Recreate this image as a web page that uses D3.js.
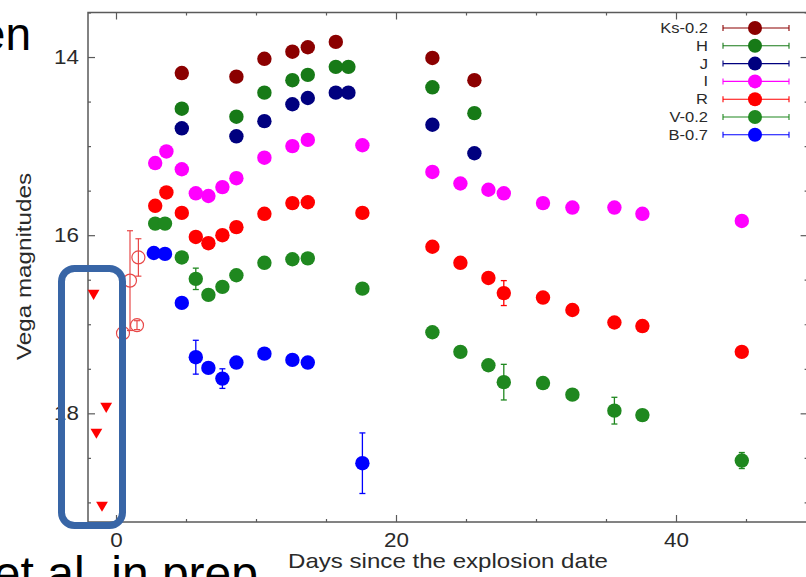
<!DOCTYPE html>
<html><head><meta charset="utf-8">
<script src="https://cdn.jsdelivr.net/npm/d3@7"></script>
<style>body{margin:0;background:#fff;} svg{display:block;}</style>
</head><body>
<svg id="c" width="806" height="577"></svg>
<script>
// ---------- data ----------
const seriesNames  = ["Ks-0.2", "H", "J", "I", "R", "V-0.2", "B-0.7"];
const seriesColors = ["#8b0000", "#177a17", "#00007f", "#ff00ff", "#ff0000", "#1f881f", "#0000ff"];

const ksDays = [4.7, 8.6, 10.6, 12.6, 13.7, 15.7, 22.6, 25.6];
const ksMags = [14.18, 14.22, 14.02, 13.94, 13.89, 13.83, 14.01, 14.26];

const hDays = [4.7, 8.6, 10.6, 12.6, 13.7, 15.7, 16.6, 22.6, 25.6];
const hMags = [14.58, 14.67, 14.40, 14.26, 14.20, 14.11, 14.11, 14.34, 14.63];

const jDays = [4.7, 8.6, 10.6, 12.6, 13.7, 15.7, 16.6, 22.6, 25.6];
const jMags = [14.80, 14.89, 14.72, 14.53, 14.46, 14.40, 14.40, 14.76, 15.08];

const iDays = [2.8, 3.6, 4.7, 5.7, 6.6, 7.6, 8.6, 10.6, 12.6, 13.7, 17.6, 22.6, 24.6, 26.6, 27.7, 30.5, 32.6, 35.6, 37.6, 44.7];
const iMags = [15.19, 15.06, 15.26, 15.53, 15.56, 15.46, 15.36, 15.13, 15.00, 14.93, 14.99, 15.29, 15.42, 15.49, 15.53, 15.64, 15.69, 15.69, 15.76, 15.84];

const rDays = [2.8, 3.6, 4.7, 5.7, 6.6, 7.6, 8.6, 10.6, 12.6, 13.7, 17.6, 22.6, 24.6, 26.6, 27.7, 30.5, 32.6, 35.6, 37.6, 44.7];
const rMags = [15.67, 15.52, 15.75, 16.02, 16.09, 16.00, 15.91, 15.76, 15.64, 15.63, 15.75, 16.13, 16.31, 16.48, 16.65, 16.70, 16.84, 16.98, 17.02, 17.31];
const rErrs = [0, 0, 0, 0, 0, 0, 0, 0, 0, 0, 0, 0, 0, 0, 0.14, 0, 0, 0, 0, 0];

const vDays = [2.8, 3.5, 4.7, 5.7, 6.6, 7.6, 8.6, 10.6, 12.6, 13.7, 17.6, 22.6, 24.6, 26.6, 27.7, 30.5, 32.6, 35.6, 37.6, 44.7];
const vMags = [15.87, 15.87, 16.25, 16.49, 16.67, 16.58, 16.45, 16.31, 16.27, 16.26, 16.60, 17.09, 17.31, 17.46, 17.65, 17.66, 17.79, 17.97, 18.02, 18.53];
const vErrs = [0, 0, 0, 0.12, 0, 0, 0, 0, 0, 0, 0, 0, 0, 0, 0.20, 0, 0, 0.15, 0, 0.09];

const bDays = [2.7, 3.5, 4.7, 5.7, 6.6, 7.6, 8.6, 10.6, 12.6, 13.7, 17.6];
const bMags = [16.20, 16.21, 16.76, 17.37, 17.49, 17.61, 17.43, 17.33, 17.40, 17.43, 18.56];
const bErrs = [0, 0, 0, 0.19, 0, 0.11, 0, 0, 0, 0, 0.34];

// early open-circle detections (R)
const earlyDays = [0.5, 1.0, 1.5, 1.6];
const earlyMags = [17.10, 16.51, 17.01, 16.25];
const earlyErrs = [0, 0.56, 0.05, 0.21];

// upper limits (R)
const limitDays = [-1.6, -0.7, -1.4, -1.0];
const limitMags = [16.65, 17.92, 18.21, 19.03];

const xMajorTicks = [0, 20, 40];
const xMinorTicks = [5, 10, 15, 25, 30, 35, 45];
const yMajorTicks = [14, 16, 18];
const yMinorTicks = [13.5, 14.5, 15, 15.5, 16.5, 17, 17.5, 18.5, 19];

const xLabel = "Days since the explosion date";
const yLabel = "Vega magnitudes";
const slideTop = "en";
const slideBottom = "et al. in prep";

// ---------- drawing ----------
const svg = d3.select("#c");
const FONT = "'Liberation Sans', Arial, sans-serif";
const x = d3.scaleLinear().domain([-2, 49.4]).range([88, 807.6]);
const y = d3.scaleLinear().domain([13.5, 19.22]).range([12.5, 522]);
const [X0, X1] = x.range(), [Y0, Y1] = y.range();

function stretch(sel, f) {
  sel.each(function () {
    const w = this.getComputedTextLength();
    d3.select(this).attr("textLength", w * f).attr("lengthAdjust", "spacingAndGlyphs");
  });
}

// frame
svg.append("rect").attr("x", X0).attr("y", Y0).attr("width", X1 - X0).attr("height", Y1 - Y0)
  .attr("fill", "none").attr("stroke", "#5a5a5a").attr("stroke-width", 1.5);

function styleAxis(g) {
  g.select(".domain").remove();
  g.selectAll(".tick line").attr("stroke", "#5a5a5a").attr("stroke-width", 1.2);
  g.selectAll("text").attr("font-family", FONT).attr("font-size", 20).attr("fill", "#2a2a2a");
}
// bottom
svg.append("g").attr("transform", `translate(0,${Y1})`)
  .call(d3.axisBottom(x).tickValues(xMajorTicks).tickSizeInner(-7).tickSizeOuter(0).tickPadding(11).tickFormat(d3.format("d")))
  .call(styleAxis).call(g => stretch(g.selectAll("text"), 1.12));
svg.append("g").attr("transform", `translate(0,${Y1})`)
  .call(d3.axisBottom(x).tickValues(xMinorTicks).tickSizeInner(-3).tickSizeOuter(0).tickFormat(""))
  .call(styleAxis);
// top (mirror)
svg.append("g").attr("transform", `translate(0,${Y0})`)
  .call(d3.axisTop(x).tickValues(xMajorTicks).tickSizeInner(-7).tickSizeOuter(0).tickFormat(""))
  .call(styleAxis);
svg.append("g").attr("transform", `translate(0,${Y0})`)
  .call(d3.axisTop(x).tickValues(xMinorTicks).tickSizeInner(-3).tickSizeOuter(0).tickFormat(""))
  .call(styleAxis);
// left
svg.append("g").attr("transform", `translate(${X0},0)`)
  .call(d3.axisLeft(y).tickValues(yMajorTicks).tickSizeInner(-7).tickSizeOuter(0).tickPadding(9).tickFormat(d3.format("d")))
  .call(styleAxis).call(g => stretch(g.selectAll("text"), 1.12));
svg.append("g").attr("transform", `translate(${X0},0)`)
  .call(d3.axisLeft(y).tickValues(yMinorTicks).tickSizeInner(-3).tickSizeOuter(0).tickFormat(""))
  .call(styleAxis);
// right (mirror)
svg.append("g").attr("transform", `translate(${X1},0)`)
  .call(d3.axisRight(y).tickValues(yMajorTicks).tickSizeInner(-7).tickSizeOuter(0).tickFormat(""))
  .call(styleAxis);
svg.append("g").attr("transform", `translate(${X1},0)`)
  .call(d3.axisRight(y).tickValues(yMinorTicks).tickSizeInner(-3).tickSizeOuter(0).tickFormat(""))
  .call(styleAxis);

// axis titles
svg.append("text").attr("x", 448).attr("y", 568).attr("text-anchor", "middle")
  .attr("font-family", FONT).attr("font-size", 21).attr("fill", "#2a2a2a")
  .attr("textLength", 320).attr("lengthAdjust", "spacingAndGlyphs").text(xLabel);
svg.append("text").attr("transform", "translate(31,266.5) rotate(-90)").attr("text-anchor", "middle")
  .attr("font-family", FONT).attr("font-size", 20).attr("fill", "#2a2a2a")
  .attr("textLength", 187).attr("lengthAdjust", "spacingAndGlyphs").text(yLabel);

// series
const series = [
  {days: ksDays, mags: ksMags, errs: null},
  {days: hDays, mags: hMags, errs: null},
  {days: jDays, mags: jMags, errs: null},
  {days: iDays, mags: iMags, errs: null},
  {days: rDays, mags: rMags, errs: rErrs},
  {days: vDays, mags: vMags, errs: vErrs},
  {days: bDays, mags: bMags, errs: bErrs}
];
const plot = svg.append("g");
function errorBars(g, days, mags, errs, color, width) {
  const data = days.map((d, i) => ({d, m: mags[i], e: errs ? errs[i] : 0})).filter(p => p.e > 0);
  const eg = g.append("g").attr("stroke", color).attr("stroke-width", width).attr("fill", "none");
  eg.selectAll("line.v").data(data).join("line")
    .attr("x1", p => x(p.d)).attr("x2", p => x(p.d)).attr("y1", p => y(p.m - p.e)).attr("y2", p => y(p.m + p.e));
  eg.selectAll("line.t").data(data).join("line").attr("class", "t")
    .attr("x1", p => x(p.d) - 3).attr("x2", p => x(p.d) + 3).attr("y1", p => y(p.m - p.e)).attr("y2", p => y(p.m - p.e));
  eg.selectAll("line.b").data(data).join("line").attr("class", "b")
    .attr("x1", p => x(p.d) - 3).attr("x2", p => x(p.d) + 3).attr("y1", p => y(p.m + p.e)).attr("y2", p => y(p.m + p.e));
}
series.forEach((s, k) => {
  const g = plot.append("g");
  errorBars(g, s.days, s.mags, s.errs, seriesColors[k], 1.3);
  g.selectAll("circle").data(s.days.map((d, i) => [d, s.mags[i]])).join("circle")
    .attr("cx", p => x(p[0])).attr("cy", p => y(p[1])).attr("r", 7.2).attr("fill", seriesColors[k]);
});

// early open circles
const eg = plot.append("g");
errorBars(eg, earlyDays, earlyMags, earlyErrs, "#e84848", 1.2);
eg.selectAll("circle").data(earlyDays.map((d, i) => [d, earlyMags[i]])).join("circle")
  .attr("cx", p => x(p[0])).attr("cy", p => y(p[1])).attr("r", 6.5)
  .attr("fill", "none").attr("stroke", "#e84848").attr("stroke-width", 1.2);

// upper limits
plot.append("g").selectAll("path").data(limitDays.map((d, i) => [d, limitMags[i]])).join("path")
  .attr("d", d3.symbol(d3.symbolTriangle, 60))
  .attr("transform", p => `translate(${x(p[0])},${y(p[1])}) rotate(180)`)
  .attr("fill", "#ff0000");

// legend
const leg = svg.append("g");
seriesNames.forEach((name, i) => {
  const cy = 28 + i * 17.8, c = seriesColors[i];
  const r = leg.append("g");
  r.append("line").attr("x1", 723).attr("x2", 789).attr("y1", cy).attr("y2", cy).attr("stroke", c).attr("stroke-width", 1.1);
  [723, 789].forEach(xx => r.append("line").attr("x1", xx).attr("x2", xx).attr("y1", cy - 3).attr("y2", cy + 3).attr("stroke", c).attr("stroke-width", 1.1));
  r.append("circle").attr("cx", 755).attr("cy", cy).attr("r", 7).attr("fill", c);
  const t = r.append("text").attr("x", 708).attr("y", cy + 5).attr("text-anchor", "end")
    .attr("font-family", FONT).attr("font-size", 14).attr("fill", "#2a2a2a").text(name);
  stretch(t, 1.18);
});

// highlight box
svg.append("rect").attr("x", 61.5).attr("y", 268.5).attr("width", 61).attr("height", 257).attr("rx", 13)
  .attr("fill", "none").attr("stroke", "#3865a6").attr("stroke-width", 7);

// slide text fragments
svg.append("text").attr("x", 31).attr("y", 50).attr("text-anchor", "end")
  .attr("font-family", FONT).attr("font-size", 46).attr("fill", "#000").text(slideTop);
svg.append("text").attr("x", 258).attr("y", 590).attr("text-anchor", "end")
  .attr("font-family", FONT).attr("font-size", 48).attr("fill", "#000").text(slideBottom);
</script>
</body></html>
